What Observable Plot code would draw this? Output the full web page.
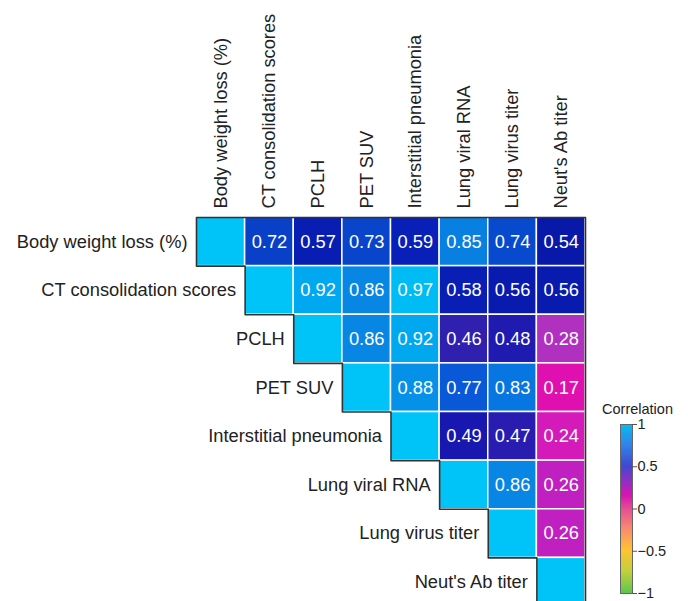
<!DOCTYPE html>
<html><head><meta charset="utf-8">
<script src="https://cdn.jsdelivr.net/npm/d3@7"></script>
<script src="https://cdn.jsdelivr.net/npm/@observablehq/plot@0.6"></script>
<style>
body{margin:0;background:#fff;}
#wrap{position:relative;width:688px;height:601px;overflow:hidden;font-family:"Liberation Sans",Arial,sans-serif;}
#wrap svg{position:absolute;overflow:hidden;}
</style></head><body><div id="wrap"></div>
<script>
// Variables (rows and columns)
const variables = ["Body weight loss (%)", "CT consolidation scores", "PCLH", "PET SUV",
  "Interstitial pneumonia", "Lung viral RNA", "Lung virus titer", "Neut's Ab titer"];

// Upper-triangle correlations; each row starts at its diagonal cell
const rowBodyWeight   = [1, 0.72, 0.57, 0.73, 0.59, 0.85, 0.74, 0.54];
const rowCT           = [1, 0.92, 0.86, 0.97, 0.58, 0.56, 0.56];
const rowPCLH         = [1, 0.86, 0.92, 0.46, 0.48, 0.28];
const rowPET          = [1, 0.88, 0.77, 0.83, 0.17];
const rowInterstitial = [1, 0.49, 0.47, 0.24];
const rowViralRNA     = [1, 0.86, 0.26];
const rowVirusTiter   = [1, 0.26];
const rowNeutAb       = [1];

const legendTicks = [-1, -0.5, 0, 0.5, 1];
const legendTitle = "Correlation";

const rows = [rowBodyWeight, rowCT, rowPCLH, rowPET, rowInterstitial, rowViralRNA, rowVirusTiter, rowNeutAb];
const cells = [];
rows.forEach((r, i) => r.forEach((v, k) => cells.push({row: i, col: i + k, value: v, diag: k === 0})));
const n = variables.length;

// staircase outline built from matrix indices
const outline = [[0, 0], [n, 0], [n, n]];
for (let i = n - 1; i >= 0; i--) { outline.push([i, i + 1]); outline.push([i, i]); }

const FONT = "Liberation Sans, Arial, sans-serif";
const FS = 18.3;

const main = Plot.plot({
  width: 688, height: 601,
  margin: 0,
  style: {fontFamily: FONT, background: "transparent"},
  x: {domain: [0, n], range: [196, 585], axis: null},
  y: {domain: [0, n], range: [217, 606], axis: null},
  color: {
    type: "linear", interpolate: "rgb",
    domain: [0.17, 0.24, 0.26, 0.28, 0.46, 0.49, 0.54, 0.59, 0.72, 0.77, 0.85, 0.92, 0.97, 1],
    range: ["#e010b0", "#d41ab8", "#c020c0", "#b030c0", "#3020b0", "#1818b0", "#0818a8", "#0820b8",
            "#0840c8", "#0858d8", "#0880e2", "#00a8f0", "#00bcf5", "#00c4f8"]
  },
  marks: [
    Plot.rect(cells, {x1: "col", x2: d => d.col + 1, y1: "row", y2: d => d.row + 1,
      fill: "value", stroke: "#ffffff", strokeWidth: 1.5}),
    Plot.text(cells.filter(d => !d.diag), {x: d => d.col + 0.5, y: d => d.row + 0.5,
      text: d => d.value.toFixed(2), fill: "white", fontSize: FS}),
    Plot.line(outline, {x: d => d[0], y: d => d[1], stroke: "#333", strokeWidth: 1.6, curve: "linear"}),
    Plot.text(variables, {x: (d, i) => i, y: (d, i) => i + 0.5, text: d => d,
      textAnchor: "end", dx: -9, fontSize: FS, fill: "#222"}),
    Plot.text(variables, {x: (d, i) => i + 0.5, y: 0, text: d => d, rotate: -90,
      textAnchor: "start", dy: -9, fontSize: FS, fill: "#222"})
  ]
});
main.style.left = "0px"; main.style.top = "0px";
document.getElementById("wrap").appendChild(main);

// vertical color-bar legend
const ramp = d3.range(-1, 1, 0.01);
const fmt = d3.format("~g");
const legend = Plot.plot({
  width: 98, height: 211,
  marginLeft: 30, marginRight: 56, marginTop: 34, marginBottom: 8,
  style: {fontFamily: FONT, background: "transparent", fontSize: "14.5px", color: "#222"},
  x: {domain: [0, 1], axis: null},
  y: {domain: [-1, 1], axis: null},
  color: {
    type: "linear", interpolate: "rgb",
    domain: [-1, -0.75, -0.5, -0.25, 0, 0.15, 0.3, 0.5, 0.75, 1],
    range: ["#5ec84c", "#c0d03c", "#ffc42e", "#f88c70", "#e44c94", "#d814b0", "#9a2cc2", "#4048d2", "#3284e8", "#00c0f2"]
  },
  marks: [
    Plot.rect(ramp, {x1: 0, x2: 1, y1: d => d, y2: d => d + 0.012, fill: d => d, shapeRendering: "crispEdges"}),
    Plot.frame({stroke: "#666", strokeWidth: 1}),
    Plot.ruleY(legendTicks, {y: d => d, x1: 1, x2: 1.42, stroke: "#555", strokeWidth: 1}),
    Plot.text(legendTicks, {y: d => d, frameAnchor: "right", textAnchor: "start", dx: 5,
      text: d => fmt(d), fontSize: 14.5, fill: "#222"}),
    Plot.text([legendTitle], {frameAnchor: "top", dx: 11, dy: -21, fontSize: 14.5, fill: "#222"})
  ]
});
legend.style.left = "590px"; legend.style.top = "390px";
document.getElementById("wrap").appendChild(legend);
</script></body></html>
